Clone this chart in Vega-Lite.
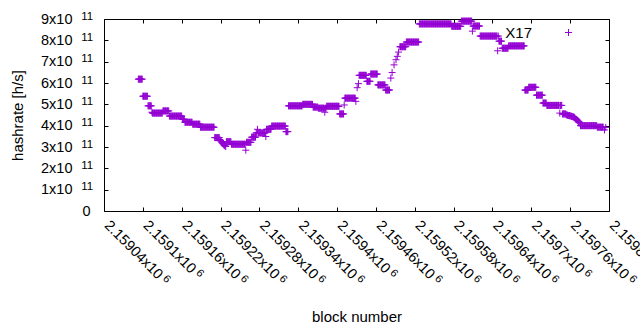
{
"$schema": "https://vega.github.io/schema/vega-lite/v6.json",
"autosize": "none",
"width": 505,
"height": 192,
"padding": {"left": 104, "top": 19, "right": 31, "bottom": 119},
"background": "white",
"config": {
  "view": {"stroke": "black", "strokeWidth": 1},
  "font": "Liberation Sans",
  "axis": {"labelFont": "Liberation Sans", "titleFont": "Liberation Sans", "labelColor": "black", "titleColor": "black", "tickColor": "black", "tickWidth": 1, "domain": false, "grid": false, "tickSize": -4, "titleFontWeight": "normal", "labelOverlap": false, "labelFlush": false, "labelBound": false}
},
"datasets": {"d": [
{"b":2159093,"h":6.18e11},{"b":2159094,"h":6.18e11},{"b":2159095,"h":6.18e11},{"b":2159096,"h":6.18e11},{"b":2159097,"h":6.18e11},{"b":2159098,"h":6.18e11},{"b":2159099,"h":6.18e11},
{"b":2159100,"h":5.38e11},{"b":2159101,"h":5.38e11},{"b":2159102,"h":5.38e11},{"b":2159103,"h":5.38e11},{"b":2159104,"h":5.38e11},{"b":2159105,"h":5.38e11},{"b":2159106,"h":5.38e11},{"b":2159107,"h":5.38e11},
{"b":2159108,"h":4.93e11},{"b":2159109,"h":4.93e11},{"b":2159110,"h":4.93e11},{"b":2159111,"h":4.93e11},{"b":2159112,"h":4.93e11},{"b":2159113,"h":4.93e11},
{"b":2159114,"h":4.63e11},
{"b":2159115,"h":4.59e11},{"b":2159116,"h":4.59e11},{"b":2159117,"h":4.59e11},{"b":2159118,"h":4.59e11},{"b":2159119,"h":4.59e11},{"b":2159120,"h":4.59e11},{"b":2159121,"h":4.59e11},{"b":2159122,"h":4.59e11},{"b":2159123,"h":4.59e11},{"b":2159124,"h":4.59e11},{"b":2159125,"h":4.59e11},{"b":2159126,"h":4.59e11},{"b":2159127,"h":4.59e11},{"b":2159128,"h":4.59e11},{"b":2159129,"h":4.59e11},{"b":2159130,"h":4.59e11},
{"b":2159131,"h":4.69e11},{"b":2159132,"h":4.69e11},{"b":2159133,"h":4.69e11},{"b":2159134,"h":4.69e11},{"b":2159135,"h":4.69e11},{"b":2159136,"h":4.69e11},{"b":2159137,"h":4.69e11},{"b":2159138,"h":4.69e11},{"b":2159139,"h":4.69e11},{"b":2159140,"h":4.69e11},
{"b":2159141,"h":4.45e11},{"b":2159142,"h":4.45e11},{"b":2159143,"h":4.45e11},{"b":2159144,"h":4.45e11},{"b":2159145,"h":4.45e11},{"b":2159146,"h":4.45e11},{"b":2159147,"h":4.45e11},{"b":2159148,"h":4.45e11},{"b":2159149,"h":4.45e11},{"b":2159150,"h":4.45e11},{"b":2159151,"h":4.45e11},{"b":2159152,"h":4.45e11},{"b":2159153,"h":4.45e11},{"b":2159154,"h":4.45e11},{"b":2159155,"h":4.45e11},{"b":2159156,"h":4.45e11},{"b":2159157,"h":4.45e11},{"b":2159158,"h":4.45e11},{"b":2159159,"h":4.45e11},{"b":2159160,"h":4.45e11},
{"b":2159161,"h":4.3e11},{"b":2159162,"h":4.3e11},{"b":2159163,"h":4.3e11},{"b":2159164,"h":4.3e11},
{"b":2159165,"h":4.16e11},{"b":2159166,"h":4.16e11},{"b":2159167,"h":4.16e11},{"b":2159168,"h":4.16e11},{"b":2159169,"h":4.16e11},{"b":2159170,"h":4.16e11},{"b":2159171,"h":4.16e11},{"b":2159172,"h":4.16e11},{"b":2159173,"h":4.16e11},{"b":2159174,"h":4.16e11},{"b":2159175,"h":4.16e11},{"b":2159176,"h":4.16e11},
{"b":2159177,"h":4.07e11},{"b":2159178,"h":4.07e11},{"b":2159179,"h":4.07e11},{"b":2159180,"h":4.07e11},{"b":2159181,"h":4.07e11},{"b":2159182,"h":4.07e11},{"b":2159183,"h":4.07e11},{"b":2159184,"h":4.07e11},{"b":2159185,"h":4.07e11},{"b":2159186,"h":4.07e11},{"b":2159187,"h":4.07e11},{"b":2159188,"h":4.07e11},
{"b":2159189,"h":3.93e11},{"b":2159190,"h":3.93e11},{"b":2159191,"h":3.93e11},{"b":2159192,"h":3.93e11},{"b":2159193,"h":3.93e11},{"b":2159194,"h":3.93e11},{"b":2159195,"h":3.93e11},{"b":2159196,"h":3.93e11},{"b":2159197,"h":3.93e11},{"b":2159198,"h":3.93e11},{"b":2159199,"h":3.93e11},{"b":2159200,"h":3.93e11},{"b":2159201,"h":3.93e11},{"b":2159202,"h":3.93e11},{"b":2159203,"h":3.93e11},{"b":2159204,"h":3.93e11},{"b":2159205,"h":3.93e11},{"b":2159206,"h":3.93e11},{"b":2159207,"h":3.93e11},{"b":2159208,"h":3.93e11},{"b":2159209,"h":3.93e11},{"b":2159210,"h":3.93e11},
{"b":2159211,"h":3.44e11},{"b":2159212,"h":3.44e11},{"b":2159213,"h":3.44e11},{"b":2159214,"h":3.44e11},{"b":2159215,"h":3.44e11},{"b":2159216,"h":3.44e11},{"b":2159217,"h":3.44e11},{"b":2159218,"h":3.44e11},
{"b":2159219,"h":3.35e11},{"b":2159220,"h":3.3e11},{"b":2159221,"h":3.25e11},{"b":2159222,"h":3.2e11},{"b":2159223,"h":3.18e11},{"b":2159224,"h":3.15e11},{"b":2159225,"h":3.1e11},{"b":2159226,"h":3.08e11},{"b":2159227,"h":3.05e11},{"b":2159228,"h":3.02e11},
{"b":2159229,"h":3.25e11},{"b":2159230,"h":3.25e11},{"b":2159231,"h":3.25e11},{"b":2159232,"h":3.25e11},{"b":2159233,"h":3.25e11},{"b":2159234,"h":3.25e11},{"b":2159235,"h":3.25e11},{"b":2159236,"h":3.25e11},
{"b":2159237,"h":3.13e11},{"b":2159238,"h":3.13e11},{"b":2159239,"h":3.13e11},{"b":2159240,"h":3.13e11},{"b":2159241,"h":3.13e11},{"b":2159242,"h":3.13e11},{"b":2159243,"h":3.13e11},{"b":2159244,"h":3.13e11},{"b":2159245,"h":3.13e11},{"b":2159246,"h":3.13e11},{"b":2159247,"h":3.13e11},{"b":2159248,"h":3.13e11},{"b":2159249,"h":3.13e11},{"b":2159250,"h":3.13e11},{"b":2159251,"h":3.13e11},{"b":2159252,"h":3.13e11},{"b":2159253,"h":3.13e11},{"b":2159254,"h":3.13e11},{"b":2159255,"h":3.13e11},{"b":2159256,"h":3.13e11},{"b":2159257,"h":3.13e11},{"b":2159258,"h":3.13e11},
{"b":2159259,"h":2.85e11},
{"b":2159260,"h":3.22e11},{"b":2159261,"h":3.22e11},{"b":2159262,"h":3.22e11},{"b":2159263,"h":3.22e11},{"b":2159264,"h":3.22e11},{"b":2159265,"h":3.22e11},{"b":2159266,"h":3.22e11},{"b":2159267,"h":3.22e11},
{"b":2159268,"h":3.46e11},{"b":2159269,"h":3.46e11},{"b":2159270,"h":3.46e11},{"b":2159271,"h":3.46e11},{"b":2159272,"h":3.46e11},{"b":2159273,"h":3.46e11},{"b":2159274,"h":3.46e11},
{"b":2159277,"h":3.83e11},
{"b":2159275,"h":3.66e11},{"b":2159276,"h":3.66e11},{"b":2159278,"h":3.66e11},{"b":2159279,"h":3.66e11},{"b":2159280,"h":3.66e11},{"b":2159281,"h":3.66e11},{"b":2159282,"h":3.66e11},{"b":2159283,"h":3.66e11},{"b":2159284,"h":3.66e11},{"b":2159285,"h":3.66e11},{"b":2159286,"h":3.66e11},{"b":2159287,"h":3.66e11},{"b":2159288,"h":3.66e11},{"b":2159289,"h":3.66e11},
{"b":2159290,"h":3.49e11},
{"b":2159291,"h":3.83e11},{"b":2159292,"h":3.83e11},{"b":2159293,"h":3.83e11},{"b":2159294,"h":3.83e11},{"b":2159295,"h":3.83e11},{"b":2159296,"h":3.83e11},{"b":2159297,"h":3.83e11},{"b":2159298,"h":3.83e11},
{"b":2159299,"h":3.98e11},{"b":2159300,"h":3.98e11},{"b":2159301,"h":3.98e11},{"b":2159302,"h":3.98e11},{"b":2159303,"h":3.98e11},{"b":2159304,"h":3.98e11},{"b":2159305,"h":3.98e11},{"b":2159306,"h":3.98e11},{"b":2159307,"h":3.98e11},{"b":2159308,"h":3.98e11},{"b":2159309,"h":3.98e11},{"b":2159310,"h":3.98e11},{"b":2159311,"h":3.98e11},{"b":2159312,"h":3.98e11},{"b":2159313,"h":3.98e11},{"b":2159314,"h":3.98e11},{"b":2159315,"h":3.98e11},{"b":2159316,"h":3.98e11},{"b":2159317,"h":3.98e11},{"b":2159318,"h":3.98e11},{"b":2159319,"h":3.98e11},{"b":2159320,"h":3.98e11},
{"b":2159321,"h":3.72e11},{"b":2159322,"h":3.72e11},{"b":2159323,"h":3.72e11},{"b":2159324,"h":3.72e11},
{"b":2159325,"h":4.93e11},{"b":2159326,"h":4.93e11},{"b":2159327,"h":4.93e11},{"b":2159328,"h":4.93e11},{"b":2159329,"h":4.93e11},{"b":2159330,"h":4.93e11},{"b":2159331,"h":4.93e11},{"b":2159332,"h":4.93e11},{"b":2159333,"h":4.93e11},{"b":2159334,"h":4.93e11},{"b":2159335,"h":4.93e11},{"b":2159336,"h":4.93e11},{"b":2159337,"h":4.93e11},{"b":2159338,"h":4.93e11},{"b":2159339,"h":4.93e11},{"b":2159340,"h":4.93e11},{"b":2159341,"h":4.93e11},{"b":2159342,"h":4.93e11},{"b":2159343,"h":4.93e11},{"b":2159344,"h":4.93e11},{"b":2159345,"h":4.93e11},{"b":2159346,"h":4.93e11},
{"b":2159347,"h":5.0e11},{"b":2159348,"h":5.0e11},{"b":2159349,"h":5.0e11},{"b":2159350,"h":5.0e11},{"b":2159351,"h":5.0e11},{"b":2159352,"h":5.0e11},{"b":2159353,"h":5.0e11},{"b":2159354,"h":5.0e11},{"b":2159355,"h":5.0e11},{"b":2159356,"h":5.0e11},{"b":2159357,"h":5.0e11},{"b":2159358,"h":5.0e11},{"b":2159359,"h":5.0e11},{"b":2159360,"h":5.0e11},{"b":2159361,"h":5.0e11},{"b":2159362,"h":5.0e11},
{"b":2159363,"h":4.87e11},{"b":2159364,"h":4.87e11},{"b":2159365,"h":4.87e11},{"b":2159366,"h":4.87e11},{"b":2159367,"h":4.87e11},{"b":2159368,"h":4.87e11},{"b":2159369,"h":4.87e11},{"b":2159370,"h":4.87e11},
{"b":2159371,"h":4.82e11},{"b":2159372,"h":4.82e11},{"b":2159373,"h":4.82e11},{"b":2159374,"h":4.82e11},{"b":2159375,"h":4.82e11},{"b":2159376,"h":4.82e11},{"b":2159377,"h":4.82e11},{"b":2159378,"h":4.82e11},{"b":2159379,"h":4.82e11},{"b":2159380,"h":4.82e11},{"b":2159381,"h":4.63e11},{"b":2159382,"h":4.82e11},{"b":2159383,"h":4.82e11},
{"b":2159384,"h":4.91e11},{"b":2159385,"h":4.91e11},{"b":2159386,"h":4.91e11},{"b":2159387,"h":4.91e11},{"b":2159388,"h":4.91e11},{"b":2159389,"h":4.91e11},{"b":2159390,"h":4.91e11},{"b":2159391,"h":4.91e11},{"b":2159392,"h":4.91e11},{"b":2159393,"h":4.91e11},{"b":2159394,"h":4.91e11},{"b":2159395,"h":4.91e11},{"b":2159396,"h":4.91e11},{"b":2159397,"h":4.91e11},{"b":2159398,"h":4.91e11},{"b":2159399,"h":4.91e11},{"b":2159400,"h":4.91e11},{"b":2159401,"h":4.91e11},{"b":2159402,"h":4.91e11},{"b":2159403,"h":4.91e11},
{"b":2159404,"h":4.55e11},{"b":2159405,"h":4.55e11},{"b":2159406,"h":4.55e11},{"b":2159407,"h":4.55e11},{"b":2159408,"h":4.55e11},{"b":2159409,"h":4.55e11},{"b":2159410,"h":4.55e11},
{"b":2159411,"h":4.97e11},
{"b":2159412,"h":5.29e11},{"b":2159413,"h":5.29e11},{"b":2159414,"h":5.29e11},{"b":2159415,"h":5.29e11},{"b":2159416,"h":5.29e11},{"b":2159417,"h":5.29e11},{"b":2159418,"h":5.29e11},{"b":2159419,"h":5.29e11},{"b":2159420,"h":5.29e11},{"b":2159421,"h":5.29e11},{"b":2159422,"h":5.29e11},{"b":2159423,"h":5.29e11},{"b":2159424,"h":5.29e11},{"b":2159425,"h":5.29e11},{"b":2159426,"h":5.29e11},{"b":2159427,"h":5.29e11},{"b":2159428,"h":5.29e11},
{"b":2159429,"h":5.14e11},
{"b":2159431,"h":5.78e11},{"b":2159433,"h":5.97e11},
{"b":2159434,"h":6.36e11},{"b":2159435,"h":6.36e11},{"b":2159436,"h":6.36e11},{"b":2159437,"h":6.36e11},{"b":2159438,"h":6.36e11},{"b":2159439,"h":6.36e11},{"b":2159440,"h":6.36e11},{"b":2159441,"h":6.36e11},{"b":2159442,"h":6.36e11},{"b":2159443,"h":6.36e11},{"b":2159444,"h":6.36e11},{"b":2159445,"h":6.36e11},
{"b":2159446,"h":6.08e11},{"b":2159447,"h":6.08e11},{"b":2159448,"h":6.08e11},{"b":2159449,"h":6.08e11},{"b":2159450,"h":6.08e11},{"b":2159451,"h":6.08e11},
{"b":2159452,"h":6.42e11},{"b":2159453,"h":6.42e11},{"b":2159454,"h":6.42e11},{"b":2159455,"h":6.42e11},{"b":2159456,"h":6.42e11},{"b":2159457,"h":6.42e11},{"b":2159458,"h":6.42e11},{"b":2159459,"h":6.42e11},{"b":2159460,"h":6.42e11},{"b":2159461,"h":6.42e11},{"b":2159462,"h":6.42e11},
{"b":2159463,"h":5.91e11},{"b":2159464,"h":5.91e11},{"b":2159465,"h":5.91e11},{"b":2159466,"h":5.91e11},{"b":2159467,"h":5.91e11},{"b":2159468,"h":5.91e11},{"b":2159469,"h":5.91e11},{"b":2159470,"h":5.91e11},{"b":2159471,"h":5.91e11},{"b":2159472,"h":5.91e11},{"b":2159473,"h":5.91e11},{"b":2159474,"h":5.91e11},
{"b":2159475,"h":5.67e11},{"b":2159476,"h":5.67e11},{"b":2159477,"h":5.67e11},{"b":2159478,"h":5.67e11},{"b":2159479,"h":5.67e11},{"b":2159480,"h":5.67e11},{"b":2159481,"h":5.67e11},
{"b":2159483,"h":6.23e11},{"b":2159485,"h":6.49e11},{"b":2159488,"h":6.85e11},{"b":2159491,"h":7.09e11},{"b":2159493,"h":7.25e11},{"b":2159495,"h":7.45e11},
{"b":2159497,"h":7.7e11},{"b":2159498,"h":7.7e11},{"b":2159499,"h":7.7e11},{"b":2159500,"h":7.7e11},{"b":2159501,"h":7.7e11},{"b":2159502,"h":7.7e11},{"b":2159503,"h":7.7e11},{"b":2159504,"h":7.7e11},{"b":2159505,"h":7.7e11},{"b":2159506,"h":7.7e11},
{"b":2159507,"h":7.92e11},{"b":2159508,"h":7.92e11},{"b":2159509,"h":7.92e11},{"b":2159510,"h":7.92e11},{"b":2159511,"h":7.92e11},{"b":2159512,"h":7.92e11},{"b":2159513,"h":7.92e11},{"b":2159514,"h":7.92e11},{"b":2159515,"h":7.92e11},{"b":2159516,"h":7.92e11},{"b":2159517,"h":7.92e11},{"b":2159518,"h":7.92e11},{"b":2159519,"h":7.92e11},{"b":2159520,"h":7.92e11},{"b":2159521,"h":7.92e11},{"b":2159522,"h":7.92e11},{"b":2159523,"h":7.92e11},{"b":2159524,"h":7.92e11},{"b":2159525,"h":7.92e11},{"b":2159526,"h":7.92e11},
{"b":2159527,"h":8.77e11},{"b":2159528,"h":8.77e11},{"b":2159529,"h":8.77e11},{"b":2159530,"h":8.77e11},{"b":2159531,"h":8.77e11},{"b":2159532,"h":8.77e11},{"b":2159533,"h":8.77e11},{"b":2159534,"h":8.77e11},{"b":2159535,"h":8.77e11},{"b":2159536,"h":8.77e11},{"b":2159537,"h":8.77e11},{"b":2159538,"h":8.77e11},{"b":2159539,"h":8.77e11},{"b":2159540,"h":8.77e11},{"b":2159541,"h":8.77e11},{"b":2159542,"h":8.77e11},{"b":2159543,"h":8.77e11},{"b":2159544,"h":8.77e11},{"b":2159545,"h":8.77e11},{"b":2159546,"h":8.77e11},{"b":2159547,"h":8.77e11},{"b":2159548,"h":8.77e11},{"b":2159549,"h":8.77e11},{"b":2159550,"h":8.77e11},{"b":2159551,"h":8.77e11},{"b":2159552,"h":8.77e11},{"b":2159553,"h":8.77e11},{"b":2159554,"h":8.77e11},{"b":2159555,"h":8.77e11},{"b":2159556,"h":8.77e11},{"b":2159557,"h":8.77e11},{"b":2159558,"h":8.77e11},{"b":2159559,"h":8.77e11},{"b":2159560,"h":8.77e11},{"b":2159561,"h":8.77e11},{"b":2159562,"h":8.77e11},{"b":2159563,"h":8.77e11},{"b":2159564,"h":8.77e11},{"b":2159565,"h":8.77e11},{"b":2159566,"h":8.77e11},{"b":2159567,"h":8.77e11},{"b":2159568,"h":8.77e11},{"b":2159569,"h":8.77e11},{"b":2159570,"h":8.77e11},{"b":2159571,"h":8.77e11},{"b":2159572,"h":8.77e11},{"b":2159573,"h":8.77e11},{"b":2159574,"h":8.77e11},{"b":2159575,"h":8.77e11},{"b":2159576,"h":8.77e11},
{"b":2159577,"h":8.66e11},{"b":2159578,"h":8.66e11},{"b":2159579,"h":8.66e11},{"b":2159580,"h":8.66e11},{"b":2159581,"h":8.66e11},{"b":2159582,"h":8.66e11},{"b":2159583,"h":8.66e11},{"b":2159584,"h":8.66e11},{"b":2159585,"h":8.66e11},{"b":2159586,"h":8.66e11},{"b":2159587,"h":8.66e11},{"b":2159588,"h":8.66e11},{"b":2159589,"h":8.66e11},{"b":2159590,"h":8.66e11},{"b":2159591,"h":8.66e11},
{"b":2159592,"h":8.9e11},{"b":2159593,"h":8.9e11},{"b":2159594,"h":8.9e11},{"b":2159595,"h":8.9e11},{"b":2159596,"h":8.9e11},{"b":2159597,"h":8.9e11},{"b":2159598,"h":8.9e11},{"b":2159599,"h":8.9e11},{"b":2159600,"h":8.9e11},{"b":2159601,"h":8.9e11},{"b":2159602,"h":8.9e11},{"b":2159603,"h":8.9e11},{"b":2159604,"h":8.9e11},{"b":2159605,"h":8.9e11},{"b":2159606,"h":8.9e11},{"b":2159607,"h":8.9e11},{"b":2159608,"h":8.9e11},
{"b":2159609,"h":8.43e11},
{"b":2159610,"h":8.67e11},{"b":2159611,"h":8.67e11},{"b":2159612,"h":8.67e11},{"b":2159613,"h":8.67e11},{"b":2159614,"h":8.67e11},{"b":2159615,"h":8.67e11},{"b":2159616,"h":8.67e11},{"b":2159617,"h":8.67e11},{"b":2159618,"h":8.67e11},{"b":2159619,"h":8.67e11},{"b":2159620,"h":8.67e11},
{"b":2159621,"h":8.2e11},{"b":2159622,"h":8.2e11},{"b":2159623,"h":8.2e11},{"b":2159624,"h":8.2e11},{"b":2159625,"h":8.2e11},{"b":2159626,"h":8.2e11},{"b":2159627,"h":8.2e11},{"b":2159628,"h":8.2e11},{"b":2159629,"h":8.2e11},{"b":2159630,"h":8.2e11},{"b":2159631,"h":8.2e11},{"b":2159632,"h":8.2e11},{"b":2159633,"h":8.2e11},{"b":2159634,"h":8.2e11},{"b":2159635,"h":8.2e11},{"b":2159636,"h":8.2e11},{"b":2159637,"h":8.2e11},{"b":2159638,"h":8.2e11},{"b":2159639,"h":8.2e11},{"b":2159640,"h":8.2e11},{"b":2159641,"h":8.2e11},{"b":2159642,"h":8.2e11},{"b":2159643,"h":8.2e11},{"b":2159644,"h":8.2e11},{"b":2159645,"h":8.2e11},{"b":2159646,"h":8.2e11},{"b":2159647,"h":8.2e11},{"b":2159649,"h":8.2e11},
{"b":2159648,"h":7.51e11},
{"b":2159650,"h":7.96e11},{"b":2159651,"h":7.96e11},{"b":2159652,"h":7.96e11},{"b":2159653,"h":7.96e11},{"b":2159654,"h":7.96e11},
{"b":2159655,"h":7.63e11},{"b":2159656,"h":7.63e11},{"b":2159657,"h":7.63e11},{"b":2159658,"h":7.63e11},{"b":2159659,"h":7.63e11},{"b":2159660,"h":7.63e11},{"b":2159661,"h":7.63e11},{"b":2159662,"h":7.63e11},{"b":2159663,"h":7.63e11},{"b":2159664,"h":7.63e11},
{"b":2159665,"h":7.74e11},{"b":2159666,"h":7.74e11},{"b":2159667,"h":7.74e11},{"b":2159668,"h":7.74e11},{"b":2159669,"h":7.74e11},{"b":2159670,"h":7.74e11},{"b":2159671,"h":7.74e11},{"b":2159672,"h":7.74e11},{"b":2159673,"h":7.74e11},{"b":2159674,"h":7.74e11},{"b":2159675,"h":7.74e11},{"b":2159676,"h":7.74e11},{"b":2159677,"h":7.74e11},{"b":2159678,"h":7.74e11},{"b":2159679,"h":7.74e11},{"b":2159680,"h":7.74e11},{"b":2159681,"h":7.74e11},{"b":2159682,"h":7.74e11},{"b":2159683,"h":7.74e11},{"b":2159684,"h":7.74e11},{"b":2159685,"h":7.74e11},{"b":2159686,"h":7.74e11},{"b":2159687,"h":7.74e11},{"b":2159688,"h":7.74e11},{"b":2159689,"h":7.74e11},
{"b":2159690,"h":5.67e11},{"b":2159691,"h":5.67e11},{"b":2159692,"h":5.67e11},{"b":2159693,"h":5.67e11},{"b":2159694,"h":5.67e11},{"b":2159695,"h":5.67e11},
{"b":2159696,"h":5.8e11},{"b":2159697,"h":5.8e11},{"b":2159698,"h":5.8e11},{"b":2159699,"h":5.8e11},{"b":2159700,"h":5.8e11},{"b":2159701,"h":5.8e11},{"b":2159702,"h":5.8e11},{"b":2159703,"h":5.8e11},{"b":2159704,"h":5.8e11},{"b":2159705,"h":5.8e11},{"b":2159706,"h":5.8e11},{"b":2159707,"h":5.8e11},
{"b":2159708,"h":5.43e11},{"b":2159709,"h":5.43e11},{"b":2159710,"h":5.43e11},{"b":2159711,"h":5.43e11},{"b":2159712,"h":5.43e11},{"b":2159713,"h":5.43e11},{"b":2159714,"h":5.43e11},{"b":2159715,"h":5.43e11},{"b":2159716,"h":5.43e11},{"b":2159717,"h":5.43e11},
{"b":2159718,"h":5.06e11},{"b":2159719,"h":5.06e11},{"b":2159720,"h":5.06e11},{"b":2159721,"h":5.06e11},{"b":2159722,"h":5.06e11},{"b":2159723,"h":5.06e11},
{"b":2159724,"h":4.95e11},{"b":2159725,"h":4.95e11},{"b":2159726,"h":4.95e11},{"b":2159727,"h":4.95e11},{"b":2159728,"h":4.95e11},{"b":2159729,"h":4.95e11},{"b":2159730,"h":4.95e11},{"b":2159731,"h":4.95e11},{"b":2159732,"h":4.95e11},{"b":2159733,"h":4.95e11},{"b":2159734,"h":4.95e11},{"b":2159735,"h":4.95e11},{"b":2159736,"h":4.95e11},{"b":2159737,"h":4.95e11},{"b":2159738,"h":4.95e11},{"b":2159739,"h":4.95e11},{"b":2159740,"h":4.95e11},{"b":2159741,"h":4.95e11},{"b":2159742,"h":4.95e11},{"b":2159743,"h":4.95e11},{"b":2159745,"h":4.95e11},{"b":2159746,"h":4.95e11},{"b":2159747,"h":4.95e11},
{"b":2159744,"h":4.59e11},
{"b":2159748,"h":4.55e11},{"b":2159749,"h":4.55e11},{"b":2159750,"h":4.55e11},{"b":2159751,"h":4.55e11},{"b":2159752,"h":4.55e11},{"b":2159753,"h":4.55e11},
{"b":2159754,"h":4.51e11},{"b":2159755,"h":4.5e11},{"b":2159756,"h":4.49e11},{"b":2159757,"h":4.48e11},{"b":2159758,"h":4.47e11},{"b":2159759,"h":4.47e11},{"b":2159760,"h":4.46e11},{"b":2159761,"h":4.45e11},{"b":2159762,"h":4.44e11},{"b":2159763,"h":4.43e11},{"b":2159764,"h":4.42e11},{"b":2159765,"h":4.41e11},{"b":2159766,"h":4.4e11},{"b":2159767,"h":4.38e11},
{"b":2159768,"h":4.32e11},{"b":2159769,"h":4.3e11},{"b":2159770,"h":4.28e11},{"b":2159771,"h":4.25e11},{"b":2159772,"h":4.22e11},{"b":2159773,"h":4.2e11},{"b":2159774,"h":4.17e11},{"b":2159775,"h":4.14e11},
{"b":2159776,"h":4.0e11},{"b":2159777,"h":4.0e11},{"b":2159778,"h":4.0e11},{"b":2159779,"h":4.0e11},{"b":2159780,"h":4.0e11},{"b":2159781,"h":4.0e11},{"b":2159782,"h":4.0e11},{"b":2159783,"h":4.0e11},{"b":2159784,"h":4.0e11},{"b":2159785,"h":4.0e11},{"b":2159786,"h":4.0e11},{"b":2159787,"h":4.0e11},{"b":2159788,"h":4.0e11},{"b":2159789,"h":4.0e11},{"b":2159790,"h":4.0e11},{"b":2159791,"h":4.0e11},{"b":2159792,"h":4.0e11},{"b":2159793,"h":4.0e11},{"b":2159794,"h":4.0e11},{"b":2159795,"h":4.0e11},{"b":2159796,"h":4.0e11},{"b":2159797,"h":4.0e11},{"b":2159798,"h":4.0e11},{"b":2159799,"h":4.0e11},{"b":2159800,"h":4.0e11},{"b":2159801,"h":4.0e11},
{"b":2159802,"h":3.93e11},{"b":2159803,"h":3.93e11},{"b":2159804,"h":3.93e11},{"b":2159805,"h":3.93e11},{"b":2159806,"h":3.93e11},{"b":2159807,"h":3.93e11},{"b":2159808,"h":3.93e11},{"b":2159809,"h":3.93e11},{"b":2159810,"h":3.93e11},{"b":2159811,"h":3.93e11},
{"b":2159813,"h":3.8e11},{"b":2159815,"h":3.92e11}
]},
"data": {"name": "d"},
"layer": [
  {
    "mark": {"type": "point", "shape": "M-1,0L1,0M0,-1L0,1", "filled": false, "strokeWidth": 1, "size": 49, "opacity": 1},
    "encoding": {
      "x": {"field": "b", "type": "quantitative",
        "scale": {"domain": [2159040, 2159820], "nice": false, "zero": false},
        "axis": {"orient": "bottom", "values": [2159040,2159100,2159160,2159220,2159280,2159340,2159400,2159460,2159520,2159580,2159640,2159700,2159760,2159820],
          "labelExpr": "format(datum.value/1e6, '.5~f') + 'x10'",
          "labelAngle": 45, "labelAlign": "left", "labelBaseline": "top", "labelFontSize": 14.5, "labelPadding": 11, "labelOffset": 7,
          "title": "block number", "titleFontSize": 15, "titleX": 252.5, "titleY": 110, "titleBaseline": "alphabetic", "titleAlign": "center"}},
      "y": {"field": "h", "type": "quantitative",
        "scale": {"domain": [0, 900000000000], "nice": false, "zero": true},
        "axis": {"orient": "left", "values": [0,100000000000,200000000000,300000000000,400000000000,500000000000,600000000000,700000000000,800000000000,900000000000],
          "labelExpr": "datum.value == 0 ? '' : format(datum.value/1e11, 'd') + 'x10'",
          "labelFontSize": 14.5, "labelPadding": 36, "labelAlign": "right", "labelBaseline": "middle",
          "title": "hashrate [h/s]", "titleFontSize": 15, "titleX": -87, "titleY": 96, "titleAngle": 270, "titleAlign": "center", "titleBaseline": "middle"}},
      "color": {"datum": "X17", "type": "nominal", "scale": {"range": ["#9400d3"]},
        "legend": {"orient": "none", "legendX": 457, "legendY": 6, "title": null, "padding": 0,
          "symbolType": "M-1,0L1,0M0,-1L0,1", "symbolSize": 49, "symbolStrokeWidth": 1, "symbolStrokeColor": "#9400d3", "symbolFillColor": "transparent",
          "labelFont": "Liberation Sans", "labelFontSize": 15, "labelColor": "black", "labelAlign": "right", "labelOffset": -44}}
    }
  },
  {
    "mark": {"type": "point", "opacity": 0},
    "encoding": {
      "x": {"field": "b", "type": "quantitative", "axis": {"orient": "top", "labels": false, "title": null, "values": [2159040,2159100,2159160,2159220,2159280,2159340,2159400,2159460,2159520,2159580,2159640,2159700,2159760,2159820]}},
      "y": {"field": "h", "type": "quantitative", "axis": {"orient": "right", "labels": false, "title": null, "values": [0,100000000000,200000000000,300000000000,400000000000,500000000000,600000000000,700000000000,800000000000,900000000000]}}
    }
  },
  {
    "mark": {"type": "point", "opacity": 0},
    "encoding": {
      "x": {"field": "b", "type": "quantitative", "axis": {"orient": "bottom", "title": null, "ticks": false, "tickSize": 0,
        "values": [2159040,2159100,2159160,2159220,2159280,2159340,2159400,2159460,2159520,2159580,2159640,2159700,2159760,2159820],
        "labelExpr": "'6'", "labelAngle": 45, "labelAlign": "left", "labelBaseline": "top", "labelFontSize": 11,
        "labelOffset": {"condition": {"test": "datum.value % 100 == 0", "value": 58.4}, "value": 64.1},
        "labelPadding": {"condition": {"test": "datum.value % 100 == 0", "value": 55.6}, "value": 61.3}}},
      "y": {"field": "h", "type": "quantitative", "axis": {"orient": "left", "title": null, "ticks": false, "tickSize": 0,
        "values": [0,100000000000,200000000000,300000000000,400000000000,500000000000,600000000000,700000000000,800000000000,900000000000],
        "labelExpr": "datum.value == 0 ? '0' : '11'",
        "labelAlign": "right", "labelBaseline": "middle",
        "labelFontSize": {"condition": {"test": "datum.value == 0", "value": 14.5}, "value": 11.5},
        "labelOffset": {"condition": {"test": "datum.value == 0", "value": 0}, "value": -3},
        "labelPadding": {"condition": {"test": "datum.value == 0", "value": 14}, "value": 11.3}}}
    }
  }
],
"resolve": {"axis": {"x": "independent", "y": "independent"}}
}
